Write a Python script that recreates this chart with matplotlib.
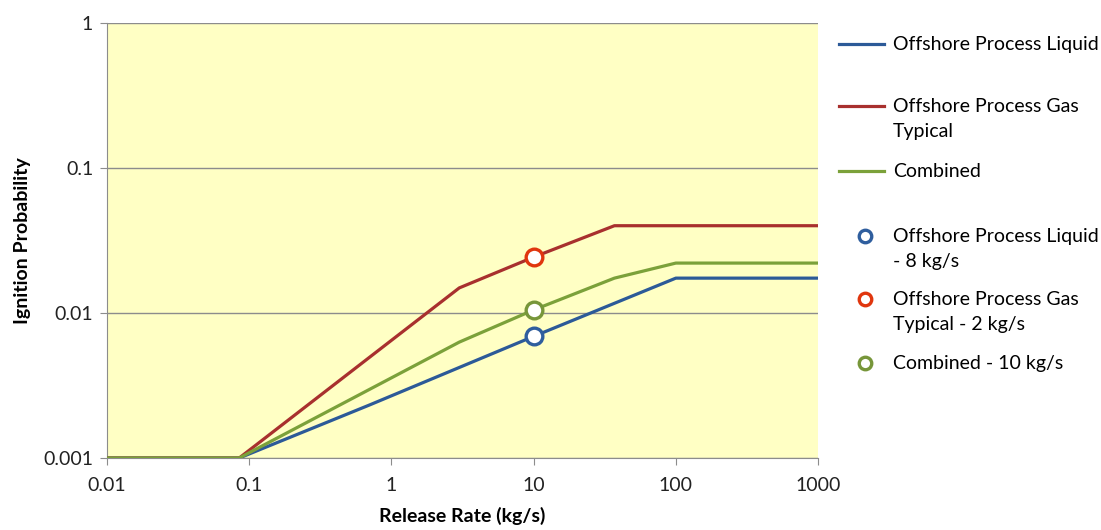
import matplotlib
matplotlib.use("Agg")
import matplotlib.pyplot as plt
from matplotlib.lines import Line2D
from matplotlib.ticker import FixedLocator, FixedFormatter, NullLocator

plt.rcParams['font.family'] = ['Lato', 'DejaVu Sans']

# release rate (kg/s) vs ignition probability curves
liquid_x = [0.01, 0.085, 0.7, 10, 100, 1000]
liquid_y = [0.001, 0.001, 0.00232, 0.0069, 0.0174, 0.0174]

gas_x = [0.01, 0.085, 3, 10, 37, 1000]
gas_y = [0.001, 0.001, 0.0149, 0.0243, 0.040, 0.040]

combined_x = [0.01, 0.085, 3, 10, 37, 100, 1000]
combined_y = [0.001, 0.001, 0.0063, 0.0105, 0.0174, 0.0221, 0.0221]

# single point values
point_x = [10, 10, 10]
point_y = [0.0069, 0.0243, 0.0105]

line_labels = ["Offshore Process Liquid", "Offshore Process Gas\nTypical", "Combined"]
point_labels = ["Offshore Process Liquid\n- 8 kg/s", "Offshore Process Gas\nTypical - 2 kg/s",
                "Combined - 10 kg/s"]

x_ticks = [0.01, 0.1, 1, 10, 100, 1000]
x_tick_labels = ["0.01", "0.1", "1", "10", "100", "1000"]
y_ticks = [0.001, 0.01, 0.1, 1]
y_tick_labels = ["0.001", "0.01", "0.1", "1"]

line_colors = ["#2C5A98", "#A8302E", "#7BA13A"]
point_colors = ["#2F5E9E", "#E0360E", "#77963A"]

fig = plt.figure(figsize=(11.01, 5.30), dpi=100)
ax = fig.add_axes([0.0972, 0.1358, 0.6458, 0.8208])
ax.set_facecolor("#FFFFC4")

ax.set_xscale("log")
ax.set_yscale("log")
ax.set_xlim(0.01, 1000)
ax.set_ylim(0.001, 1)

for xs, ys, c in zip([liquid_x, gas_x, combined_x], [liquid_y, gas_y, combined_y], line_colors):
    ax.plot(xs, ys, color=c, lw=2.3, solid_joinstyle="round", zorder=3)

for xv, yv, c in zip(point_x, point_y, point_colors):
    ax.plot(xv, yv, "o", ms=12, mfc="white", mec=c, mew=2.4, zorder=4)

ax.xaxis.set_major_locator(FixedLocator(x_ticks))
ax.xaxis.set_major_formatter(FixedFormatter(x_tick_labels))
ax.xaxis.set_minor_locator(NullLocator())
ax.yaxis.set_major_locator(FixedLocator(y_ticks))
ax.yaxis.set_major_formatter(FixedFormatter(y_tick_labels))
ax.yaxis.set_minor_locator(NullLocator())

ax.grid(axis="y", color="#8C8C8C", lw=1.0)
for s in ["top", "right"]:
    ax.spines[s].set_visible(False)
for s in ["left", "bottom"]:
    ax.spines[s].set_color("#8C8C8C")
ax.tick_params(colors="#8C8C8C", labelcolor="#222222", labelsize=14, length=5, direction="out")
ax.tick_params(axis="x", pad=9)
ax.tick_params(axis="y", pad=5)

ax.set_xlabel("Release Rate (kg/s)", fontsize=14, fontweight="bold", labelpad=9)
ax.set_ylabel("Ignition Probability", fontsize=14, fontweight="bold", labelpad=9)

# legend drawn by hand on the right
line_rows = [0.917, 0.800, 0.677]
for yy, lab, c in zip(line_rows, line_labels, line_colors):
    fig.add_artist(Line2D([0.762, 0.803], [yy, yy], color=c, lw=2.3, transform=fig.transFigure))
    fig.text(0.811, yy + 0.0155, lab, fontsize=14, va="top", ha="left", linespacing=1.62)

point_rows = [0.555, 0.436, 0.315]
for yy, lab, c in zip(point_rows, point_labels, point_colors):
    fig.add_artist(Line2D([0.786], [yy], marker="o", ms=9, mfc="white", mec=c, mew=2.4,
                          transform=fig.transFigure))
    fig.text(0.811, yy + 0.0155, lab, fontsize=14, va="top", ha="left", linespacing=1.62)

fig.savefig("out.png", dpi=100, facecolor="white")
